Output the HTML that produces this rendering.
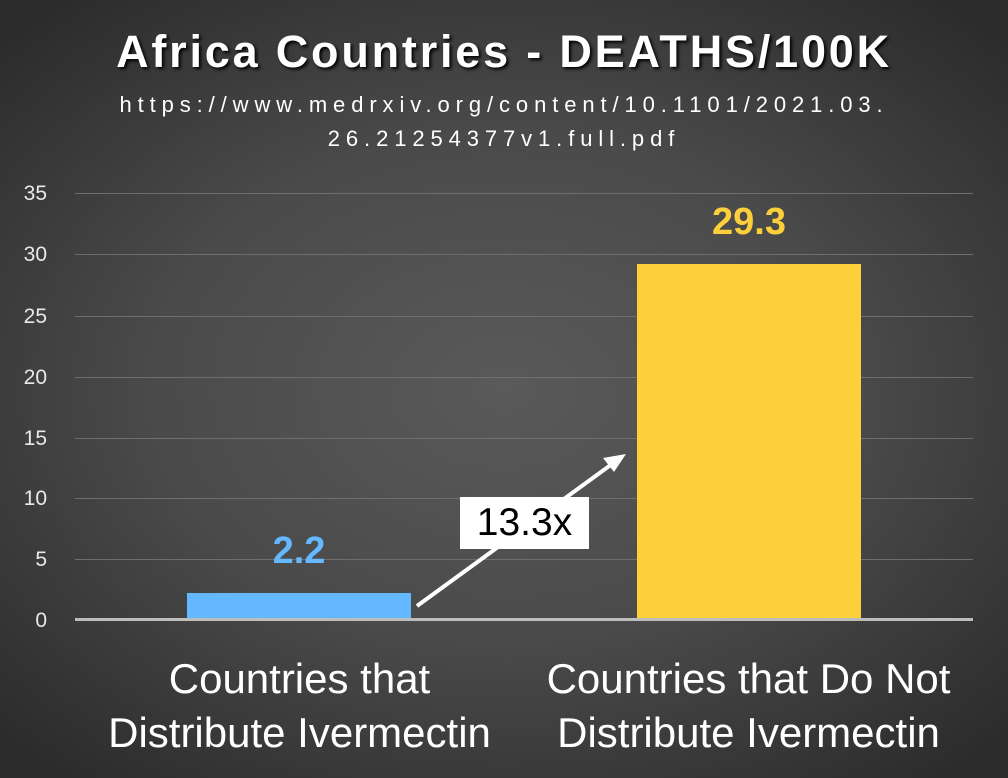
<!DOCTYPE html>
<html><head><style>
body{margin:0;}
.c{position:relative;width:1008px;height:778px;overflow:hidden;background:radial-gradient(ellipse 70% 65% at 50% 50%,#5a5a5a 0%,#4a4a4a 50%,#2b2b2b 100%);font-family:"Liberation Sans",sans-serif;color:#fff;}
.t{position:absolute;left:0;width:1008px;text-align:center;}
.g{position:absolute;left:75px;width:898px;height:1px;background:#6e6e6e;}
.y{position:absolute;left:0;width:47px;text-align:right;font-size:21px;color:#e8e8e8;}
</style></head><body><div class="c">
<div class="t" style="top:26px;font-size:45px;font-weight:bold;letter-spacing:2.8px;text-shadow:2px 2px 3px #000;">Africa Countries - DEATHS/100K</div>
<div class="t" style="top:88px;font-size:22px;letter-spacing:5.9px;line-height:34px;">https://www.medrxiv.org/content/10.1101/2021.03.<br>26.21254377v1.full.pdf</div>
<div class="g" style="top:193px"></div><div class="g" style="top:254px"></div><div class="g" style="top:316px"></div><div class="g" style="top:377px"></div><div class="g" style="top:438px"></div><div class="g" style="top:498px"></div><div class="g" style="top:559px"></div>
<div class="y" style="top:182px">35</div><div class="y" style="top:243px">30</div><div class="y" style="top:305px">25</div><div class="y" style="top:366px">20</div><div class="y" style="top:427px">15</div><div class="y" style="top:487px">10</div><div class="y" style="top:548px">5</div><div class="y" style="top:609px">0</div>
<div style="position:absolute;left:187px;top:593px;width:224px;height:27px;background:#63b8ff"></div>
<div style="position:absolute;left:637px;top:264px;width:224px;height:356px;background:#fdd03b"></div>
<div style="position:absolute;left:75px;top:618px;width:898px;height:3px;background:#bdbdbd"></div>
<div style="position:absolute;left:187px;top:530px;width:224px;text-align:center;font-size:38px;font-weight:bold;color:#63b8ff">2.2</div>
<div style="position:absolute;left:637px;top:201px;width:224px;text-align:center;font-size:38px;font-weight:bold;color:#fdd03b">29.3</div>
<svg style="position:absolute;left:0;top:0" width="1008" height="778"><line x1="417" y1="606" x2="612" y2="464" stroke="#fff" stroke-width="4"/><polygon points="626,454 603,458 614,472" fill="#fff"/></svg>
<div style="position:absolute;left:460px;top:497px;width:129px;height:52px;background:#fff;color:#000;font-size:39px;text-align:center;line-height:52px">13.3x</div>
<div style="position:absolute;left:60px;top:652px;width:479px;text-align:center;font-size:42px;line-height:54px">Countries that<br>Distribute Ivermectin</div>
<div style="position:absolute;left:509px;top:652px;width:479px;text-align:center;font-size:42px;line-height:54px">Countries that Do Not<br>Distribute Ivermectin</div>
</div></body></html>
